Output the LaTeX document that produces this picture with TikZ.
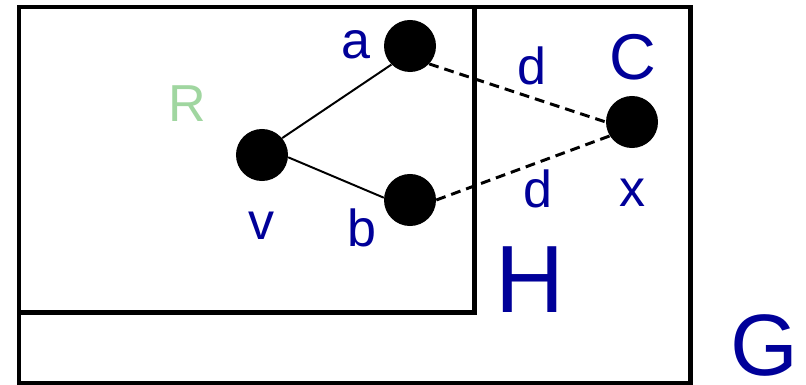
\documentclass[tikz,border=0pt]{standalone}
\usepackage{xcolor}
\usepackage{fontspec}
\setmainfont{Liberation Sans}
\usepackage{tikz}
\definecolor{labelblue}{RGB}{0,0,153}
\definecolor{regiongreen}{RGB}{160,214,160}

\begin{document}
\begin{tikzpicture}[x=0.025cm,y=-0.025cm,
    vertex/.style={circle,fill=black,inner sep=0pt,minimum size=1.3cm},
    lbl/.style={text=labelblue,inner sep=0pt,font=\fontsize{37}{40}\selectfont},
    frame/.style={line width=3.3pt,line join=miter}]
  \useasboundingbox (0,0) rectangle (806,385);
  % Graph G and region R
  \draw[frame] (19,7) rectangle (690.5,383.5);
  \draw[frame] (19,7) rectangle (474.5,312.5);
  % Vertices
  \node[vertex] (v) at (262,155) {};
  \node[vertex] (a) at (410,46) {};
  \node[vertex] (b) at (410,200) {};
  \node[vertex] (x) at (632,122) {};
  % Edges
  \draw[line width=1.4pt] (v.40) -- (a.225);
  \draw[line width=1.4pt] (v.-5) -- (b.175);
  \draw[line width=2.1pt,dash pattern=on 7pt off 4.3pt] (a.-43) -- (x.180);
  \draw[line width=2.1pt,dash pattern=on 7pt off 4.3pt] (b.0) -- (x.212);
  % Labels
  \node[lbl] (la) at (356,45) {a};
  \node[lbl] (lb) at (362,228) {b};
  \node[lbl] (lv) at (262,226) {v};
  \node[lbl] (lx) at (632,193) {x};
  \node[lbl] (ld1) at (532,66) {d};
  \node[lbl] (ld2) at (538,189) {d};
  \node[lbl,font=\fontsize{46}{50}\selectfont] (lC) at (633,57) {C};
  \node[lbl,text=regiongreen] (lR) at (187,104) {R};
  \node[lbl,font=\fontsize{68}{72}\selectfont] (lH) at (530,280) {H};
  \node[lbl,font=\fontsize{62}{66}\selectfont] (lG) at (764,345) {G};
\end{tikzpicture}
\end{document}
